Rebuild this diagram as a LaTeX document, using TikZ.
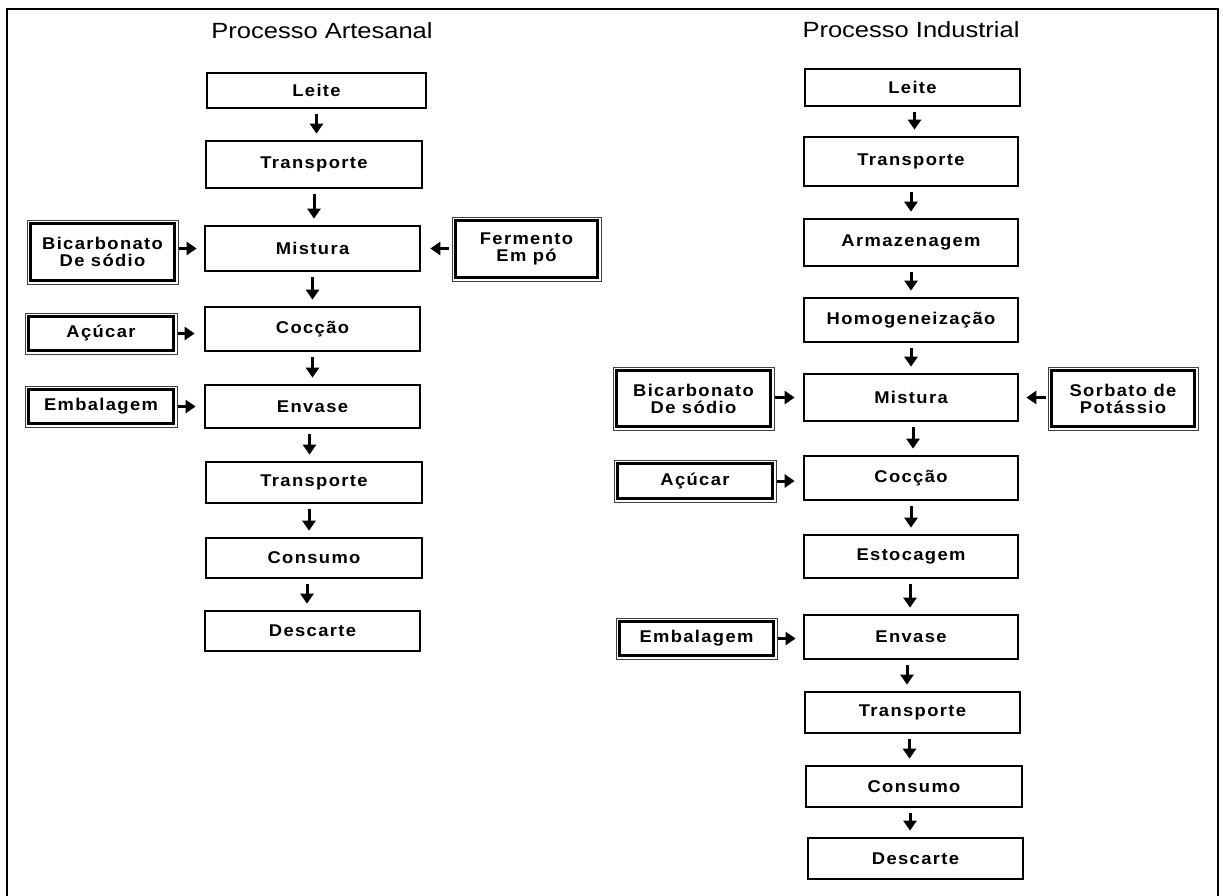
\documentclass[tikz,border=0pt]{standalone}
\usepackage{fontspec}
\setmainfont{Liberation Sans}
\newfontfamily\labelfont[LetterSpace=8,FakeStretch=1.08]{Liberation Sans}
\newfontfamily\headfont[FakeStretch=1.16]{Liberation Sans}
\usetikzlibrary{arrows.meta}

\begin{document}
\begin{tikzpicture}[x=1pt,y=-1pt,
  stepbox/.style={draw, line width=2.7pt, inner sep=0pt, align=center,
    font=\labelfont\bfseries\fontsize{17}{17}\selectfont},
  sidebox/.style={draw=black!75, line width=1pt, inner sep=0pt, align=center,
    font=\labelfont\bfseries\fontsize{17}{17}\selectfont},
  flow/.style={line width=3pt, -{Triangle[width=13pt,length=10pt]}},
  vflow/.style={flow, shorten <=5pt, shorten >=6pt},
  heading/.style={font=\headfont\fontsize{22}{24}\selectfont, inner sep=0pt}
]
\useasboundingbox (0,0) rectangle (1223,895);

% outer frame
\draw[line width=2pt] (7,896) -- (7,9) -- (1218,9) -- (1218,896);

% ---------- artisanal process ----------
\node[heading] (tA) at (322,31) {Processo Artesanal};

\node[stepbox, minimum width=219pt, minimum height=35pt] (lLeite) at (316.5,90.5) {Leite};
\node[stepbox, minimum width=216pt, minimum height=47pt] (lTrans) at (314,164.5) {Transporte};
\node[stepbox, minimum width=215pt, minimum height=45pt] (lMist)  at (312.5,248.5) {Mistura};
\node[stepbox, minimum width=215pt, minimum height=44pt] (lCoc)   at (312.5,329) {Cocção};
\node[stepbox, minimum width=215pt, minimum height=43pt] (lEnv)   at (312.5,406.5) {Envase};
\node[stepbox, minimum width=216pt, minimum height=41pt] (lTransB) at (314,482.5) {Transporte};
\node[stepbox, minimum width=216pt, minimum height=40pt] (lCons)  at (314,558) {Consumo};
\node[stepbox, minimum width=215pt, minimum height=40pt] (lDesc)  at (312.5,631) {Descarte};

\node[sidebox, minimum width=151pt, minimum height=64pt] (lBic) at (102.5,252) {Bicarbonato\\De sódio};
\node[sidebox, minimum width=149pt, minimum height=64pt] (lFer) at (526.5,249) {Fermento\\Em pó};
\node[sidebox, minimum width=152pt, minimum height=41pt] (lAcu) at (101,333.5) {Açúcar};
\node[sidebox, minimum width=152pt, minimum height=41pt] (lEmb) at (101,406.5) {Embalagem};

\draw[vflow] (lLeite.south) -- (lLeite.south |- lTrans.north);
\draw[vflow] (lTrans.south) -- (lTrans.south |- lMist.north);
\draw[vflow] (lMist.south) -- (lMist.south |- lCoc.north);
\draw[vflow] (lCoc.south) -- (lCoc.south |- lEnv.north);
\draw[vflow] ([xshift=-3pt]lEnv.south) -- ([xshift=-3pt]lEnv.south |- lTransB.north);
\draw[vflow] ([xshift=-5pt]lTransB.south) -- ([xshift=-5pt]lTransB.south |- lCons.north);
\draw[vflow] ([xshift=-7pt]lCons.south) -- ([xshift=-7pt]lCons.south |- lDesc.north);

\draw[flow, shorten >=7pt] (lBic.east |- lMist.west) -- (lMist.west);
\draw[flow, shorten <=3pt, shorten >=9pt] (lFer.west |- lMist.east) -- (lMist.east);
\draw[flow, shorten >=9pt] (lAcu.east) -- (lAcu.east -| lCoc.west);
\draw[flow, shorten >=8pt] (lEmb.east) -- (lEmb.east -| lEnv.west);

% ---------- industrial process ----------
\node[heading] (tI) at (911,30) {Processo Industrial};

\node[stepbox, minimum width=215pt, minimum height=37pt] (rLeite) at (912.5,87.5) {Leite};
\node[stepbox, minimum width=214pt, minimum height=49pt] (rTrans) at (911,161.5) {Transporte};
\node[stepbox, minimum width=214pt, minimum height=47pt] (rArm)   at (911,242.5) {Armazenagem};
\node[stepbox, minimum width=214pt, minimum height=44pt] (rHomo)  at (911,320) {Homogeneização};
\node[stepbox, minimum width=214pt, minimum height=47pt] (rMist)  at (911,397.5) {Mistura};
\node[stepbox, minimum width=214pt, minimum height=44pt] (rCoc)   at (911,478) {Cocção};
\node[stepbox, minimum width=214pt, minimum height=43pt] (rEsto)  at (911,556.5) {Estocagem};
\node[stepbox, minimum width=214pt, minimum height=44pt] (rEnv)   at (911,637) {Envase};
\node[stepbox, minimum width=215pt, minimum height=41pt] (rTransB) at (912.5,712.5) {Transporte};
\node[stepbox, minimum width=216pt, minimum height=41pt] (rCons)  at (914,786.5) {Consumo};
\node[stepbox, minimum width=215pt, minimum height=41pt] (rDesc)  at (915.5,858.5) {Descarte};

\node[sidebox, minimum width=161pt, minimum height=63pt] (rBic) at (693.5,398.5) {Bicarbonato\\De sódio};
\node[sidebox, minimum width=150pt, minimum height=63pt] (rSor) at (1123,398.5) {Sorbato de\\Potássio};
\node[sidebox, minimum width=162pt, minimum height=42pt] (rAcu) at (695,481) {Açúcar};
\node[sidebox, minimum width=161pt, minimum height=41pt] (rEmb) at (696.5,638.5) {Embalagem};

\draw[vflow] ([xshift=2pt]rLeite.south) -- ([xshift=2pt]rLeite.south |- rTrans.north);
\draw[vflow] (rTrans.south) -- (rTrans.south |- rArm.north);
\draw[vflow] (rArm.south) -- (rArm.south |- rHomo.north);
\draw[vflow] (rHomo.south) -- (rHomo.south |- rMist.north);
\draw[vflow] ([xshift=2pt]rMist.south) -- ([xshift=2pt]rMist.south |- rCoc.north);
\draw[vflow] (rCoc.south) -- (rCoc.south |- rEsto.north);
\draw[vflow] ([xshift=-1pt]rEsto.south) -- ([xshift=-1pt]rEsto.south |- rEnv.north);
\draw[vflow] ([xshift=-4pt]rEnv.south) -- ([xshift=-4pt]rEnv.south |- rTransB.north);
\draw[vflow] ([xshift=-3pt]rTransB.south) -- ([xshift=-3pt]rTransB.south |- rCons.north);
\draw[vflow] ([xshift=-4pt]rCons.south) -- ([xshift=-4pt]rCons.south |- rDesc.north);

\draw[flow, shorten >=8pt] (rBic.east |- rMist.west) -- (rMist.west);
\draw[flow, shorten <=2pt, shorten >=7pt] (rSor.west |- rMist.east) -- (rMist.east);
\draw[flow, shorten >=8pt] (rAcu.east) -- (rAcu.east -| rCoc.west);
\draw[flow, shorten >=7pt] (rEmb.east) -- (rEmb.east -| rEnv.west);

% inner thick border of the ingredient boxes
\foreach \n in {lBic,lFer,lAcu,lEmb,rBic,rSor,rAcu,rEmb}
  \draw[line width=2.5pt] ([shift={(4pt,-4pt)}]\n.north west) rectangle ([shift={(-4pt,4pt)}]\n.south east);
\end{tikzpicture}
\end{document}
